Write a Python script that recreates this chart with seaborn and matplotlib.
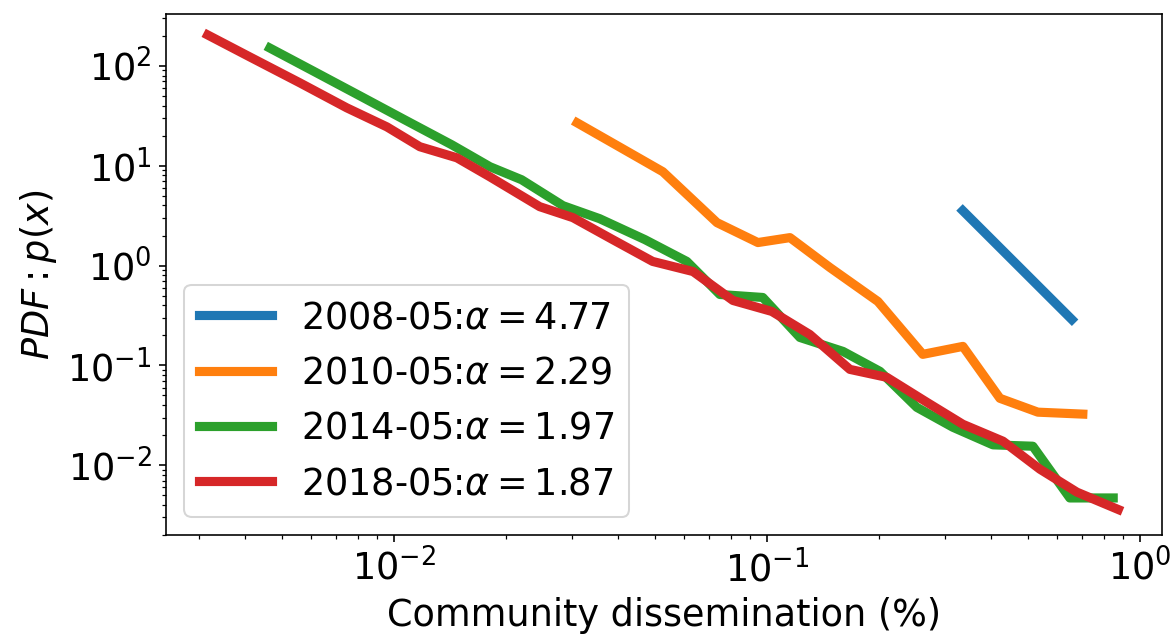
import numpy as np
import pandas as pd
import matplotlib
matplotlib.use("Agg")
import matplotlib.pyplot as plt
import seaborn as sns

# ---- data ----
labels = ["2008-05:$\\alpha=4.77$", "2010-05:$\\alpha=2.29$",
          "2014-05:$\\alpha=1.97$", "2018-05:$\\alpha=1.87$"]

x_2008 = [0.335, 0.657]
y_2008 = [3.55, 0.288]

x_2010 = [0.0310, 0.0404, 0.0526, 0.0735, 0.0946, 0.1153, 0.1476, 0.1984,
          0.2618, 0.3353, 0.4214, 0.5326, 0.703]
y_2010 = [26.9, 15.3, 8.71, 2.69, 1.70, 1.905, 0.955, 0.437,
          0.129, 0.155, 0.0468, 0.034, 0.0325]

x_2014 = [0.00465, 0.00614, 0.00811, 0.0107, 0.0143, 0.0181, 0.0220, 0.0284,
          0.0356, 0.0471, 0.0610, 0.0748, 0.0975, 0.1226, 0.160, 0.201,
          0.2523, 0.3152, 0.4036, 0.5164, 0.6487, 0.848]
y_2014 = [151, 87.1, 50.1, 28.8, 16.2, 9.77, 7.24, 3.98,
          2.95, 1.82, 1.10, 0.513, 0.479, 0.1905, 0.138, 0.0871,
          0.0380, 0.0240, 0.0160, 0.0155, 0.0047, 0.0047]

x_2018 = [0.00317, 0.00411, 0.0056, 0.00748, 0.00958, 0.01174, 0.01476, 0.01807,
          0.0246, 0.0302, 0.0386, 0.0494, 0.0634, 0.0811, 0.1031, 0.1303,
          0.1669, 0.2097, 0.2685, 0.3353, 0.4295, 0.5395, 0.678, 0.875]
y_2018 = [204, 123, 67.6, 38.0, 24.5, 15.5, 12.0, 7.76,
          3.89, 3.02, 1.82, 1.10, 0.871, 0.447, 0.347, 0.204,
          0.0912, 0.0759, 0.0427, 0.0257, 0.0174, 0.00912, 0.00537, 0.0036]

xs = [x_2008, x_2010, x_2014, x_2018]
ys = [y_2008, y_2010, y_2014, y_2018]

frames = []
for lab, xv, yv in zip(labels, xs, ys):
    frames.append(pd.DataFrame({"x": xv, "y": yv, "series": lab}))
df = pd.concat(frames, ignore_index=True)

colors = sns.color_palette("tab10", 4)

DPI = 146.4
fig = plt.figure(figsize=(1171 / DPI, 635 / DPI), dpi=DPI)
ax = fig.add_axes([166 / 1171, 1 - 535 / 635, (1162 - 166) / 1171, (535 - 14) / 635])

sns.lineplot(data=df, x="x", y="y", hue="series", hue_order=labels,
             palette=colors, estimator=None, sort=False, linewidth=4.5,
             ax=ax)

ax.set_xscale("log")
ax.set_yscale("log")
ax.set_xlim(0.00245, 1.146)
ax.set_ylim(0.0020, 331)

ax.set_xlabel("Community dissemination (%)", fontsize=18)
ax.set_ylabel("$PDF: p(x)$", fontsize=18)
ax.tick_params(axis="both", which="major", labelsize=18)

leg = ax.legend(loc="lower left", fontsize=18)
for line in leg.get_lines():
    line.set_linewidth(4.5)

fig.savefig("out.png", dpi=DPI)
